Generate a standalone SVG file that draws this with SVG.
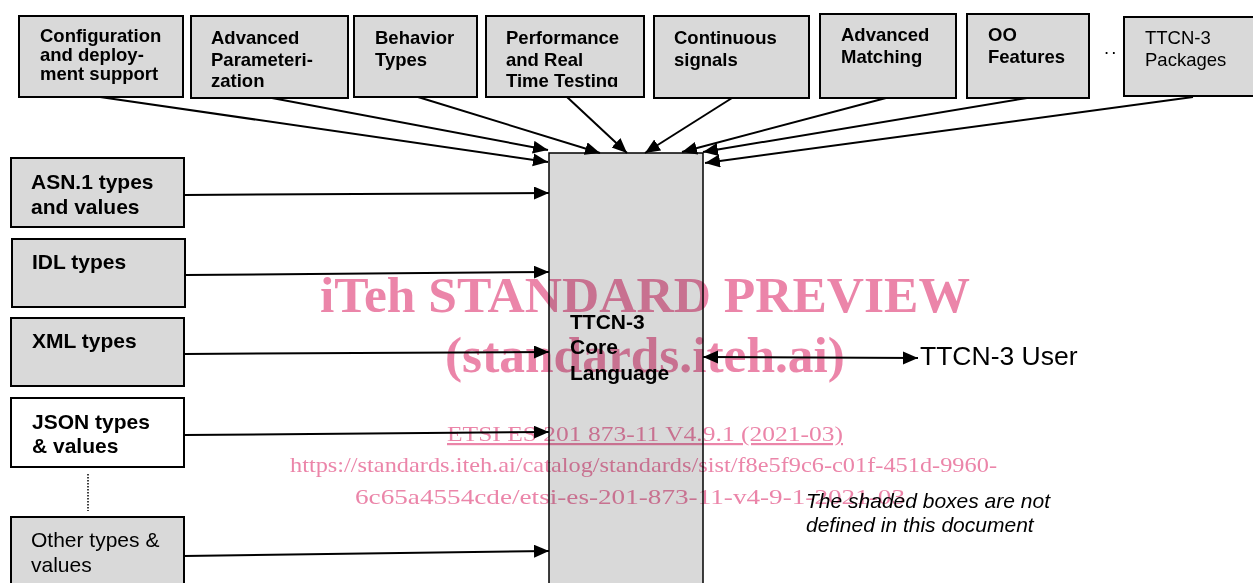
<svg xmlns="http://www.w3.org/2000/svg" width="1253" height="583" viewBox="0 0 1253 583">
<style>
.box{fill:#d9d9d9;stroke:#000;stroke-width:2}
.wbox{fill:#fff;stroke:#000;stroke-width:2}
.tb{font-family:"Liberation Sans",Arial,sans-serif;font-weight:bold;font-size:18.5px;fill:#000}
.tn{font-family:"Liberation Sans",Arial,sans-serif;font-size:18.5px;fill:#000}
.lb{font-family:"Liberation Sans",Arial,sans-serif;font-weight:bold;font-size:21px;fill:#000}
.ln{font-family:"Liberation Sans",Arial,sans-serif;font-size:21px;fill:#000}
.conn{stroke:#000;stroke-width:2;fill:none;marker-end:url(#ah)}
.wm{font-family:"Liberation Serif","Times New Roman",serif;fill:#e8709a;fill-opacity:0.85;mix-blend-mode:multiply}
</style>
<defs>
<marker id="ah" markerUnits="userSpaceOnUse" markerWidth="16" markerHeight="14" refX="15" refY="6.5" orient="auto-start-reverse">
<path d="M0,0 L15,6.5 L0,13 z" fill="#000"/>
</marker>
<clipPath id="clip4"><rect x="486" y="16" width="158" height="71"/></clipPath>
</defs>

<g id="core">
<rect x="549" y="153" width="154" height="440" fill="#d9d9d9" stroke="#000" stroke-width="1.5"/>
<text class="lb" font-size="20px" x="570" y="329">TTCN-3</text>
<text class="lb" font-size="20px" x="570" y="354">Core</text>
<text class="lb" font-size="20px" x="570" y="380">Language</text>
</g>

<g id="n-config">
<rect class="box" x="19" y="16" width="164" height="81"/>
<text class="tb" x="40" y="42">Configuration</text>
<text class="tb" x="40" y="61">and deploy-</text>
<text class="tb" x="40" y="80">ment support</text>
</g>
<g id="n-param">
<rect class="box" x="191" y="16" width="157" height="82"/>
<text class="tb" x="211" y="44">Advanced</text>
<text class="tb" x="211" y="66">Parameteri-</text>
<text class="tb" x="211" y="87">zation</text>
</g>
<g id="n-behav">
<rect class="box" x="354" y="16" width="123" height="81"/>
<text class="tb" x="375" y="44">Behavior</text>
<text class="tb" x="375" y="66">Types</text>
</g>
<g id="n-perf">
<rect class="box" x="486" y="16" width="158" height="81"/>
<g clip-path="url(#clip4)">
<text class="tb" x="506" y="44">Performance</text>
<text class="tb" x="506" y="66">and Real</text>
<text class="tb" x="506" y="87">Time Testing</text>
</g>
</g>
<g id="n-cont">
<rect class="box" x="654" y="16" width="155" height="82"/>
<text class="tb" x="674" y="44">Continuous</text>
<text class="tb" x="674" y="66">signals</text>
</g>
<g id="n-match">
<rect class="box" x="820" y="14" width="136" height="84"/>
<text class="tb" x="841" y="41">Advanced</text>
<text class="tb" x="841" y="63">Matching</text>
</g>
<g id="n-oo">
<rect class="box" x="967" y="14" width="122" height="84"/>
<text class="tb" x="988" y="41">OO</text>
<text class="tb" x="988" y="63">Features</text>
</g>
<text class="tn" x="1104" y="54" letter-spacing="2">..</text>
<g id="n-pkg">
<rect class="box" x="1124" y="17" width="140" height="79"/>
<text class="tn" x="1145" y="44">TTCN-3</text>
<text class="tn" x="1145" y="66">Packages</text>
</g>

<g id="n-asn">
<rect class="box" x="11" y="158" width="173" height="69"/>
<text class="lb" x="31" y="189">ASN.1 types</text>
<text class="lb" x="31" y="214">and values</text>
</g>
<g id="n-idl">
<rect class="box" x="12" y="239" width="173" height="68"/>
<text class="lb" x="32" y="269">IDL types</text>
</g>
<g id="n-xml">
<rect class="box" x="11" y="318" width="173" height="68"/>
<text class="lb" x="32" y="348">XML types</text>
</g>
<g id="n-json">
<rect class="wbox" x="11" y="398" width="173" height="69"/>
<text class="lb" x="32" y="429">JSON types</text>
<text class="lb" x="32" y="453">&amp; values</text>
</g>
<g id="n-other">
<rect class="box" x="11" y="517" width="173" height="80"/>
<text class="ln" x="31" y="547">Other types &amp;</text>
<text class="ln" x="31" y="572">values</text>
</g>

<g id="user">
<text font-family="Liberation Sans,Arial,sans-serif" font-size="26.5px" x="920" y="365">TTCN-3 User</text>
</g>

<g id="note">
<text font-family="Liberation Sans,Arial,sans-serif" font-style="italic" font-size="21px" x="806" y="508">The shaded boxes are not</text>
<text font-family="Liberation Sans,Arial,sans-serif" font-style="italic" font-size="21px" x="806" y="532">defined in this document</text>
</g>

<g id="connectors">
<line class="conn" x1="100" y1="97" x2="548" y2="162"/>
<line class="conn" x1="272" y1="98" x2="548" y2="150"/>
<line class="conn" x1="418" y1="97" x2="600" y2="153"/>
<line class="conn" x1="567" y1="97" x2="627" y2="153"/>
<line class="conn" x1="732" y1="98" x2="645" y2="153"/>
<line class="conn" x1="886" y1="98" x2="682" y2="152"/>
<line class="conn" x1="1027" y1="98" x2="703" y2="152"/>
<line class="conn" x1="1193" y1="97" x2="705" y2="163"/>
<line class="conn" x1="184" y1="195" x2="549" y2="193"/>
<line class="conn" x1="185" y1="275" x2="549" y2="272"/>
<line class="conn" x1="184" y1="354" x2="549" y2="352"/>
<line class="conn" x1="184" y1="435" x2="549" y2="432"/>
<line class="conn" x1="184" y1="556" x2="549" y2="551"/>
<line class="conn" x1="703" y1="357" x2="918" y2="358" style="marker-start:url(#ah)"/>
<line x1="88" y1="474" x2="88" y2="511" stroke="#000" stroke-width="1.5" stroke-dasharray="1.5 1.5"/>
</g>

<g id="watermark">
<text class="wm" font-weight="bold" font-size="50px" x="320" y="312" textLength="650" lengthAdjust="spacingAndGlyphs">iTeh STANDARD PREVIEW</text>
<text class="wm" font-weight="bold" font-size="50px" x="445" y="372" textLength="400" lengthAdjust="spacingAndGlyphs">(standards.iteh.ai)</text>
<text class="wm" font-size="22px" x="447" y="441" textLength="396" lengthAdjust="spacingAndGlyphs" text-decoration="underline">ETSI ES 201 873-11 V4.9.1 (2021-03)</text>
<text class="wm" font-size="22px" x="290" y="472" textLength="707" lengthAdjust="spacingAndGlyphs">https://standards.iteh.ai/catalog/standards/sist/f8e5f9c6-c01f-451d-9960-</text>
<text class="wm" font-size="22px" x="355" y="504" textLength="550" lengthAdjust="spacingAndGlyphs">6c65a4554cde/etsi-es-201-873-11-v4-9-1-2021-03</text>
</g>
</svg>
